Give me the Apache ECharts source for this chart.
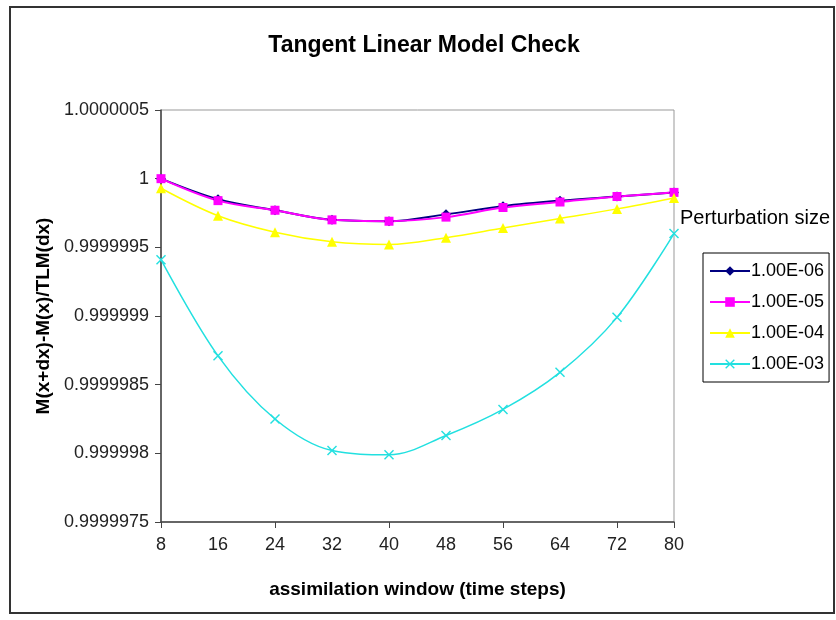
<!DOCTYPE html>
<html>
<head>
<meta charset="utf-8">
<title>Tangent Linear Model Check</title>
<script src="https://cdn.jsdelivr.net/npm/echarts@6/dist/echarts.min.js"></script>
<style>
  html, body { margin: 0; padding: 0; background: #fff; }
  #chart { position: absolute; left: 0; top: 0; width: 836px; height: 620px; }
  #frame {
    position: absolute; left: 9px; top: 6px; width: 826px; height: 608px;
    border: 2px solid #333; box-sizing: border-box; pointer-events: none; z-index: 5;
  }
</style>
</head>
<body>
<div id="chart"></div>
<div id="frame"></div>
<script>
// assimilation window (time steps)
const windows = ['8', '16', '24', '32', '40', '48', '56', '64', '72', '80']

// perturbation sizes (legend)
const sizeNames = ['1.00E-06', '1.00E-05', '1.00E-04', '1.00E-03']

// M(x+dx)-M(x)/TLM(dx)
const ratio1e6 = [1.0000000, 0.99999985, 0.99999977, 0.99999970, 0.99999969, 0.99999974, 0.99999980, 0.99999984, 0.99999987, 0.99999990]
const ratio1e5 = [1.0000000, 0.99999984, 0.99999977, 0.99999970, 0.99999969, 0.99999972, 0.99999979, 0.99999983, 0.99999987, 0.99999990]
const ratio1e4 = [0.99999993, 0.99999973, 0.99999961, 0.99999954, 0.99999952, 0.99999957, 0.99999964, 0.99999971, 0.99999978, 0.99999986]
const ratio1e3 = [0.99999941, 0.99999871, 0.99999825, 0.99999802, 0.99999799, 0.99999813, 0.99999832, 0.99999859, 0.99999899, 0.99999960]

const FONT = "'Liberation Sans', Arial, sans-serif"
const crossMark = 'path://M0,1L1,0L5,4L9,0L10,1L6,5L10,9L9,10L5,6L1,10L0,9L4,5Z'

const chart = echarts.init(document.getElementById('chart'))

const makeSeries = (name, data, color, symbol, size, width) => ({
  name,
  type: 'line',
  data,
  smooth: 0.35,
  symbol,
  symbolSize: size,
  showSymbol: true,
  lineStyle: { color, width },
  itemStyle: { color, borderWidth: 0 },
  emphasis: { disabled: true }
})

chart.setOption({
  animation: false,
  backgroundColor: '#fff',
  textStyle: { fontFamily: FONT },
  title: {
    text: 'Tangent Linear Model Check',
    left: 419,
    textAlign: 'center',
    top: 29,
    textStyle: { fontFamily: FONT, fontSize: 23, fontWeight: 'bold', color: '#000' }
  },
  graphic: [{
    type: 'text',
    left: 680,
    top: 208,
    style: { text: 'Perturbation size', font: '20px ' + FONT, fill: '#000' }
  }],
  legend: {
    orient: 'vertical',
    left: 703,
    top: 253,
    data: sizeNames,
    itemWidth: 40,
    itemHeight: 12,
    itemGap: 13,
    padding: [9, 5, 9, 6],
    borderColor: '#000',
    borderWidth: 1,
    textStyle: { fontFamily: FONT, fontSize: 18, color: '#000', padding: [0, 0, 0, -4] }
  },
  grid: {
    left: 161, top: 110, width: 513, height: 412,
    show: true, borderColor: '#999', borderWidth: 1
  },
  xAxis: {
    type: 'category',
    data: windows,
    boundaryGap: false,
    name: 'assimilation window (time steps)',
    nameLocation: 'middle',
    nameGap: 58,
    nameTextStyle: { fontFamily: FONT, fontSize: 19, fontWeight: 'bold', color: '#000' },
    axisLine: { lineStyle: { color: '#444', width: 1.5 } },
    axisTick: { interval: 1, length: 6, lineStyle: { color: '#444' } },
    axisLabel: { interval: 0, fontSize: 18, color: '#222', margin: 14 }
  },
  yAxis: {
    type: 'value',
    min: 0.9999975,
    max: 1.0000005,
    interval: 0.0000005,
    name: 'M(x+dx)-M(x)/TLM(dx)',
    nameLocation: 'middle',
    nameGap: 108,
    nameTextStyle: { fontFamily: FONT, fontSize: 19, fontWeight: 'bold', color: '#000' },
    axisLine: { show: true, lineStyle: { color: '#444', width: 1.5 } },
    axisTick: { show: true, length: 6, lineStyle: { color: '#444' } },
    splitLine: { show: false },
    axisLabel: {
      fontSize: 18, color: '#222', margin: 12,
      formatter: v => String(parseFloat(v.toFixed(7)))
    }
  },
  series: [
    makeSeries(sizeNames[0], ratio1e6, '#000080', 'diamond', 10, 2),
    makeSeries(sizeNames[1], ratio1e5, '#ff00ff', 'rect', 9, 2),
    makeSeries(sizeNames[2], ratio1e4, '#ffff00', 'triangle', 10, 1.5),
    makeSeries(sizeNames[3], ratio1e3, '#22e0e0', crossMark, 10, 1.5)
  ]
})
</script>
</body>
</html>
